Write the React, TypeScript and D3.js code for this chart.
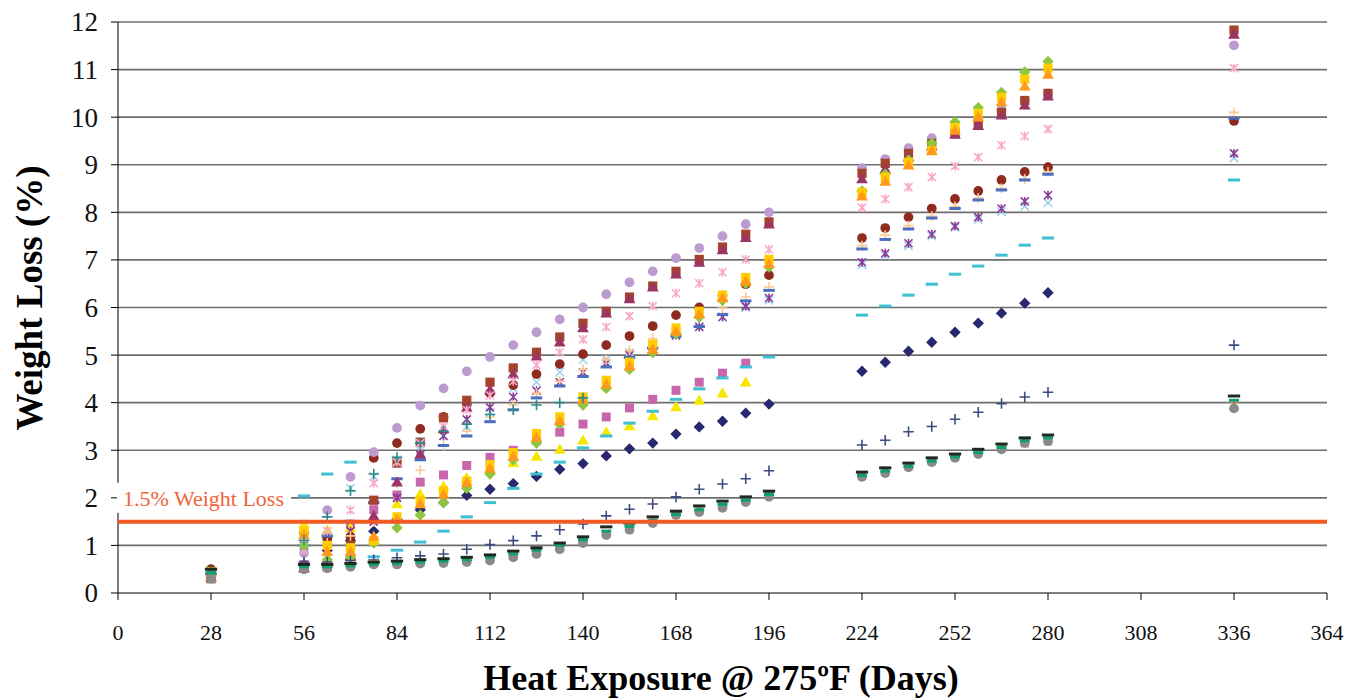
import React from "react";
import * as d3 from "d3";

const days = [28, 56, 63, 70, 77, 84, 91, 98, 105, 112, 119, 126, 133, 140, 147, 154, 161, 168, 175, 182, 189, 196, 224, 231, 238, 245, 252, 259, 266, 273, 280, 336];
const xTicks = [0, 28, 56, 84, 112, 140, 168, 196, 224, 252, 280, 308, 336, 364];
const yTicks = [0, 1, 2, 3, 4, 5, 6, 7, 8, 9, 10, 11, 12];

const N = null;
const navyDiamond = [0.4, 0.6, 0.9, 1.1, 1.3, 1.55, 1.75, 1.9, 2.05, 2.18, 2.3, 2.45, 2.6, 2.72, 2.88, 3.03, 3.15, 3.34, 3.49, 3.61, 3.78, 3.97, 4.66, 4.85, 5.08, 5.27, 5.48, 5.67, 5.88, 6.09, 6.31, N];
const pinkSquare = [0.35, 0.6, 1.18, 1.45, 1.75, 2.06, 2.33, 2.48, 2.68, 2.85, 3.0, 3.2, 3.38, 3.55, 3.7, 3.89, 4.07, 4.26, 4.43, 4.62, 4.83, N, N, N, N, N, N, N, N, N, N, N];
const yellowTriangle = [0.45, 1.43, 1.3, 1.35, 1.55, 1.85, 2.06, 2.22, 2.4, 2.58, 2.72, 2.85, 3.0, 3.19, 3.36, 3.49, 3.7, 3.89, 4.03, 4.18, 4.41, N, N, N, N, N, N, N, N, N, N, N];
const lightBlueX = [0.35, 0.9, 1.2, 2.2, 2.45, 2.8, 3.0, 3.3, 3.5, 3.8, 4.3, 4.43, 4.64, 4.9, 4.9, 5.05, 5.2, 5.4, 5.6, 5.8, 6.0, 6.15, 6.9, 7.1, 7.3, 7.5, 7.68, 7.85, 8.02, 8.13, 8.2, 9.14];
const purpleStar = [0.35, 1.0, 1.1, 1.3, 1.5, 2.0, 2.9, 3.3, 3.65, 3.9, 4.12, 4.25, 4.43, 4.64, 4.83, 5.0, 5.2, 5.42, 5.59, 5.8, 6.03, 6.2, 6.95, 7.14, 7.35, 7.54, 7.71, 7.9, 8.08, 8.23, 8.36, 9.24];
const darkRedCircle = [0.5, 1.26, 1.15, 1.18, 2.84, 3.15, 3.45, 3.7, 3.95, 4.2, 4.37, 4.6, 4.81, 5.02, 5.21, 5.4, 5.61, 5.84, 6.0, 6.25, 6.49, 6.68, 7.46, 7.67, 7.9, 8.08, 8.28, 8.45, 8.68, 8.85, 8.95, 9.92];
const lightOrangePlus = [0.4, 1.0, 1.05, 1.2, 1.5, 2.3, 2.58, 3.1, 3.4, 3.7, 3.95, 4.2, 4.45, 4.7, 4.9, 5.1, 5.35, 5.55, 5.8, 5.99, 6.22, 6.43, 7.3, 7.52, 7.72, 7.92, 8.12, 8.3, 8.5, 8.7, 8.85, 10.1];
const blueDash = [0.4, 1.0, 1.2, 1.5, 1.9, 2.4, 2.8, 3.1, 3.3, 3.6, 3.85, 4.1, 4.35, 4.55, 4.75, 4.95, 5.15, 5.4, 5.6, 5.85, 6.14, 6.36, 7.23, 7.43, 7.65, 7.88, 8.08, 8.26, 8.47, 8.68, 8.8, 9.98];
const lightPurpleCircle = [0.4, 0.84, 1.74, 2.44, 2.96, 3.47, 3.94, 4.3, 4.66, 4.96, 5.21, 5.48, 5.75, 6.0, 6.28, 6.53, 6.76, 7.04, 7.25, 7.5, 7.75, 8.0, 8.93, 9.12, 9.35, 9.56, 9.75, 9.95, 10.15, 10.35, 10.5, 11.51];
const brownSquare = [0.3, 0.55, 0.55, 1.0, 1.95, 2.73, 3.17, 3.68, 4.05, 4.43, 4.73, 5.06, 5.38, 5.67, 5.92, 6.22, 6.45, 6.76, 7.01, 7.27, 7.54, 7.8, 8.82, 9.03, 9.24, 9.45, 9.66, 9.85, 10.1, 10.35, 10.5, 11.83];
const maroonTriangle = [0.32, 0.5, 0.6, 0.76, 1.6, 2.31, 2.9, 3.43, 3.88, 4.25, 4.58, 4.96, 5.25, 5.55, 5.86, 6.16, 6.41, 6.68, 6.93, 7.19, 7.45, 7.73, 8.68, 8.89, 9.14, 9.37, 9.62, 9.8, 10.02, 10.23, 10.42, 11.72];
const pinkStar = [0.35, 0.9, 1.3, 1.74, 2.31, 2.75, 3.15, 3.5, 3.85, 4.15, 4.45, 4.79, 5.06, 5.33, 5.59, 5.82, 6.03, 6.3, 6.51, 6.74, 7.01, 7.22, 8.1, 8.28, 8.53, 8.74, 8.97, 9.16, 9.41, 9.6, 9.75, 11.03];
const greenDiamond = [0.4, 1.0, 0.7, 0.75, 1.05, 1.37, 1.64, 1.9, 2.2, 2.5, 2.8, 3.15, 3.55, 3.95, 4.3, 4.7, 5.05, 5.45, 5.8, 6.15, 6.5, 6.85, 8.45, 8.8, 9.1, 9.45, 9.9, 10.2, 10.52, 10.95, 11.17, N];
const goldSquare = [0.45, 1.3, 1.0, 0.95, 1.1, 1.6, 1.95, 2.15, 2.35, 2.7, 2.95, 3.35, 3.7, 4.12, 4.47, 4.85, 5.23, 5.57, 5.92, 6.26, 6.63, 7.01, 8.42, 8.74, 9.05, 9.3, 9.78, 10.08, 10.42, 10.8, 11.03, N];
const orangeTriangle = [0.4, 1.2, 0.85, 0.85, 1.17, 1.53, 1.85, 2.05, 2.3, 2.6, 2.85, 3.25, 3.6, 4.05, 4.37, 4.75, 5.1, 5.48, 5.84, 6.18, 6.53, 6.9, 8.32, 8.63, 8.97, 9.27, 9.7, 9.98, 10.3, 10.63, 10.88, N];
const cyanDash = [N, 2.04, 2.5, 2.75, 0.76, 0.9, 1.07, 1.3, 1.6, 1.9, 2.2, 2.5, 2.75, 3.05, 3.3, 3.57, 3.82, 4.07, 4.29, 4.52, 4.75, 4.96, 5.84, 6.03, 6.26, 6.49, 6.7, 6.87, 7.1, 7.31, 7.46, 8.68];
const navyPlus = [0.4, 0.65, 0.65, 0.68, 0.7, 0.74, 0.78, 0.82, 0.92, 1.02, 1.1, 1.2, 1.33, 1.45, 1.62, 1.76, 1.87, 2.02, 2.18, 2.29, 2.4, 2.57, 3.11, 3.21, 3.39, 3.5, 3.65, 3.8, 3.98, 4.12, 4.22, 5.21];
const tealPlus = [0.45, 1.11, 1.6, 2.15, 2.5, 2.85, 3.15, 3.4, 3.55, 3.75, 3.85, 3.95, 4.0, 4.1, N, N, N, N, N, N, N, N, N, N, N, N, N, N, N, N, N, N];
const orangeX = [0.35, 0.52, 0.55, 0.58, 0.62, 0.62, 0.64, 0.66, 0.68, 0.72, 0.78, 0.85, 0.95, 1.08, 1.25, 1.36, 1.5, 1.66, 1.73, 1.82, 1.94, 2.05, 2.46, 2.55, 2.66, 2.77, 2.86, 2.95, 3.04, 3.14, 3.18, 3.95];
const grayCircle = [0.3, 0.5, 0.52, 0.55, 0.6, 0.6, 0.62, 0.63, 0.65, 0.68, 0.75, 0.82, 0.92, 1.05, 1.22, 1.33, 1.47, 1.64, 1.7, 1.79, 1.91, 2.02, 2.44, 2.52, 2.64, 2.75, 2.84, 2.92, 3.02, 3.15, 3.19, 3.88];
const greenDash = [0.42, 0.55, 0.55, 0.57, 0.6, 0.62, 0.65, 0.67, 0.7, 0.75, 0.82, 0.9, 1.0, 1.12, 1.3, 1.4, 1.52, 1.65, 1.75, 1.86, 1.95, 2.07, 2.47, 2.56, 2.66, 2.77, 2.86, 2.95, 3.06, 3.2, 3.26, 4.05];
const blackDash = [0.5, 0.6, 0.6, 0.62, 0.65, 0.67, 0.7, 0.72, 0.75, 0.8, 0.88, 0.95, 1.05, 1.18, 1.39, 1.47, 1.6, 1.72, 1.83, 1.93, 2.02, 2.14, 2.54, 2.63, 2.73, 2.84, 2.92, 3.02, 3.13, 3.26, 3.32, 4.14];

const thresholdValue = 1.5;
const thresholdLabel = "1.5% Weight Loss";

const symDiamond = { draw(ctx: any, size: number) { const r = Math.sqrt(size / 2); ctx.moveTo(0, -r); ctx.lineTo(r, 0); ctx.lineTo(0, r); ctx.lineTo(-r, 0); ctx.closePath(); } };
const symPlus = { draw(ctx: any, size: number) { const r = Math.sqrt(size) / 2; ctx.moveTo(-r, 0); ctx.lineTo(r, 0); ctx.moveTo(0, -r); ctx.lineTo(0, r); } };
const symX = { draw(ctx: any, size: number) { const r = Math.sqrt(size) / 2; ctx.moveTo(-r, -r); ctx.lineTo(r, r); ctx.moveTo(r, -r); ctx.lineTo(-r, r); } };
const symStar = { draw(ctx: any, size: number) { const r = Math.sqrt(size) / 2; ctx.moveTo(-r, -r); ctx.lineTo(r, r); ctx.moveTo(r, -r); ctx.lineTo(-r, r); ctx.moveTo(0, -r * 1.1); ctx.lineTo(0, r * 1.1); } };
const symDash = { draw(ctx: any, size: number) { const w = Math.sqrt(size); ctx.rect(-w / 2, -1.5, w, 3); } };

type S = { values: (number | null)[]; color: string; type: any; size: number; stroke?: boolean };
const series: S[] = [
  { values: navyDiamond, color: "#28286e", type: symDiamond, size: 64 },
  { values: pinkSquare, color: "#c766ac", type: d3.symbolSquare, size: 80 },
  { values: yellowTriangle, color: "#f7e600", type: d3.symbolTriangle, size: 60 },
  { values: lightBlueX, color: "#9fd3ee", type: symX, size: 70, stroke: true },
  { values: purpleStar, color: "#8c3a96", type: symStar, size: 64, stroke: true },
  { values: darkRedCircle, color: "#8e2a1e", type: d3.symbolCircle, size: 75 },
  { values: lightOrangePlus, color: "#fcc890", type: symPlus, size: 100, stroke: true },
  { values: blueDash, color: "#4a6ec0", type: symDash, size: 130 },
  { values: lightPurpleCircle, color: "#bb9bd0", type: d3.symbolCircle, size: 75 },
  { values: brownSquare, color: "#a5442c", type: d3.symbolSquare, size: 85 },
  { values: maroonTriangle, color: "#9b3566", type: d3.symbolTriangle, size: 60 },
  { values: pinkStar, color: "#f7a9cc", type: symStar, size: 64, stroke: true },
  { values: greenDiamond, color: "#8cc63f", type: symDiamond, size: 64 },
  { values: goldSquare, color: "#ffcc00", type: d3.symbolSquare, size: 85 },
  { values: orangeTriangle, color: "#ff9a1a", type: d3.symbolTriangle, size: 60 },
  { values: cyanDash, color: "#3cc0d2", type: symDash, size: 150 },
  { values: navyPlus, color: "#3c4c80", type: symPlus, size: 110, stroke: true },
  { values: tealPlus, color: "#2a8a8a", type: symPlus, size: 110, stroke: true },
  { values: orangeX, color: "#f49a4c", type: symX, size: 60, stroke: true },
  { values: grayCircle, color: "#8a8a8a", type: d3.symbolCircle, size: 75 },
  { values: greenDash, color: "#10a070", type: symDash, size: 100 },
  { values: blackDash, color: "#1e2a1e", type: symDash, size: 150 },
];

const W = 1349, H = 700;
const x = d3.scaleLinear().domain([0, 364]).range([118, 1327]);
const y = d3.scaleLinear().domain([0, 12]).range([593, 22]);

const serif = "Liberation Serif, Times New Roman, Tinos, DejaVu Serif, Noto Serif, serif";

export default function App() {
  const txt = (size: number, bold = false, fill = "#111") => ({ fontFamily: serif, fontSize: size + "px", fontWeight: bold ? 700 : 400, fill });
  const lblY = y(2);
  return (
    <svg width={W} height={H} style={{ position: "absolute", left: 0, top: 0, display: "block", background: "#fff" }}>
      {yTicks.filter((v) => v > 0).map((v) => (
        <line key={"g" + v} x1={x(0)} x2={x(364)} y1={y(v)} y2={y(v)} stroke="#6e6e6e" strokeWidth={1.7} />
      ))}
      <line x1={x(0)} x2={x(0)} y1={y(12)} y2={y(0)} stroke="#000" strokeWidth={1} />
      {yTicks.map((v) => (
        <line key={"yt" + v} x1={x(0) - 7} x2={x(0)} y1={y(v)} y2={y(v)} stroke="#000" strokeWidth={1} />
      ))}
      <line x1={x(0)} x2={x(364)} y1={y(0)} y2={y(0)} stroke="#000" strokeWidth={1} />
      {xTicks.map((v) => (
        <line key={"xt" + v} x1={x(v)} x2={x(v)} y1={y(0)} y2={y(0) + 7} stroke="#000" strokeWidth={1} />
      ))}
      {yTicks.map((v) => (
        <text key={"yl" + v} x={98} y={y(v)} dy="0.35em" textAnchor="end" style={txt(27)}>{v}</text>
      ))}
      {xTicks.map((v) => (
        <text key={"xl" + v} x={x(v)} y={640} textAnchor="middle" style={txt(22)}>{v}</text>
      ))}
      <text x={721} y={690} textAnchor="middle" style={txt(36, true, "#000")}>Heat Exposure @ 275ºF (Days)</text>
      <text transform={`translate(42, 298) rotate(-90)`} textAnchor="middle" style={txt(37, true, "#000")}>Weight Loss (%)</text>
      {series.map((s, i) => {
        const gen = d3.symbol().type(s.type).size(s.size);
        const p = gen() as string;
        return (
          <g key={"s" + i}>
            {s.values.map((v, j) => v == null ? null : (
              <path key={j} d={p} transform={`translate(${x(days[j])},${y(v)})`}
                fill={s.stroke ? "none" : s.color} stroke={s.stroke ? s.color : "none"} strokeWidth={s.stroke ? 1.6 : 0} />
            ))}
          </g>
        );
      })}
      <line x1={x(0)} x2={x(364)} y1={y(thresholdValue)} y2={y(thresholdValue)} stroke="#f15a24" strokeWidth={4} />
      <rect x={x(0) - 1} y={lblY - 15} width={174} height={30} fill="#fff" />
      <text x={123} y={lblY} dy="0.35em" style={txt(22, false, "#f0643a")}>{thresholdLabel}</text>
    </svg>
  );
}
